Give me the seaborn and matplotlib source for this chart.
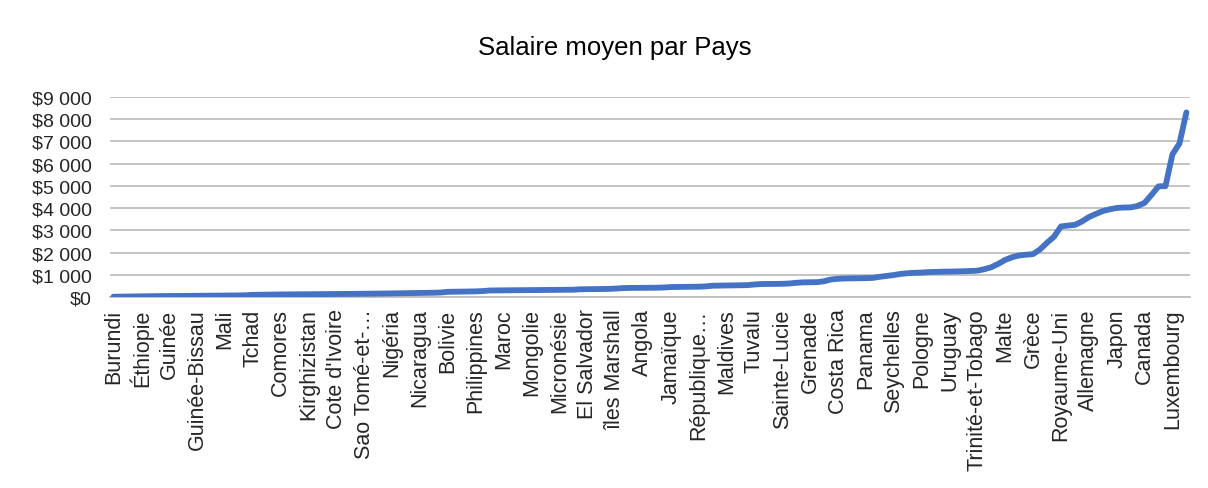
import numpy as np
import pandas as pd
import matplotlib
matplotlib.use("Agg")
import matplotlib.pyplot as plt
import seaborn as sns

# ---- data -------------------------------------------------------------
countries = [
    "Burundi", "Malawi", "Madagascar", "Centrafrique", "Éthiopie", "Niger", "Libéria", "Mozambique",
    "Guinée", "Sierra Leone", "Togo", "Ouganda", "Guinée-Bissau", "Burkina Faso", "Gambie", "Rwanda",
    "Mali", "Afghanistan", "Tanzanie", "Haïti", "Tchad", "Népal", "Bénin", "Tadjikistan",
    "Comores", "Érythrée", "Zimbabwe", "Sénégal", "Kirghizistan", "Cambodge", "Bangladesh", "Kenya",
    "Cote d'Ivoire", "Myanmar", "Zambie", "Cameroun", "Sao Tomé-et-Principe", "Lesotho", "Pakistan", "Mauritanie",
    "Nigéria", "Laos", "Soudan", "Ouzbékistan", "Nicaragua", "Inde", "Ghana", "Djibouti",
    "Bolivie", "Honduras", "Vietnam", "Papouasie", "Philippines", "Égypte", "Ukraine", "Îles Salomon",
    "Maroc", "Vanuatu", "Sri Lanka", "Indonésie", "Mongolie", "Kiribati", "Timor oriental", "Moldavie",
    "Micronésie", "Tunisie", "Guatemala", "Eswatini", "El Salvador", "Samoa", "Arménie", "Algérie",
    "îles Marshall", "Géorgie", "Tonga", "Congo", "Angola", "Jordanie", "Belize", "Guyana",
    "Jamaïque", "Paraguay", "Pérou", "Namibie", "République dominicaine", "Équateur", "Albanie", "Colombie",
    "Maldives", "Fidji", "Azerbaïdjan", "Macédoine du Nord", "Tuvalu", "Kazakhstan", "Afrique du Sud", "Botswana",
    "Sainte-Lucie", "Thaïlande", "Serbie", "Dominique", "Grenade", "Bosnie", "Saint-Vincent", "Brésil",
    "Costa Rica", "Mexique", "Monténégro", "Maurice", "Panama", "Chine", "Malaisie", "Russie",
    "Seychelles", "Turquie", "Roumanie", "Bulgarie", "Pologne", "Hongrie", "Chili", "Argentine",
    "Uruguay", "Croatie", "Lettonie", "Lituanie", "Trinité-et-Tobago", "Slovaquie", "Estonie", "Portugal",
    "Malte", "Tchéquie", "Slovénie", "Chypre", "Grèce", "Espagne", "Corée du Sud", "Italie",
    "Royaume-Uni", "France", "Israël", "Nouvelle-Zélande", "Allemagne", "Belgique", "Finlande", "Autriche",
    "Japon", "Suède", "Pays-Bas", "Irlande", "Canada", "Singapour", "Australie", "Danemark",
    "Luxembourg", "Norvège", "Suisse",
]

salaries = [
    25, 30, 35, 40, 45, 48, 52, 55, 58, 60, 63, 65, 68, 70, 72, 75,
    78, 80, 85, 90, 110, 115, 120, 125, 128, 130, 133, 135, 138, 140, 142, 145,
    147, 150, 152, 155, 158, 160, 165, 170, 175, 180, 185, 190, 195, 200, 205, 215,
    245, 250, 255, 260, 265, 280, 305, 310, 312, 315, 318, 320, 322, 325, 328, 330,
    333, 336, 340, 360, 363, 366, 370, 375, 390, 410, 420, 423, 426, 428, 430, 440,
    460, 465, 470, 473, 476, 490, 520, 525, 530, 533, 536, 545, 575, 595, 598, 600,
    605, 620, 650, 670, 675, 680, 720, 800, 830, 845, 850, 855, 860, 870, 920, 960,
    1000, 1050, 1080, 1100, 1110, 1130, 1140, 1150, 1155, 1160, 1170, 1180, 1195, 1260, 1350, 1500,
    1680, 1800, 1880, 1910, 1940, 2150, 2450, 2720, 3180, 3220, 3250, 3400, 3600, 3740, 3870, 3950,
    4010, 4030, 4035, 4100, 4240, 4600, 4980, 4990, 6420, 6900, 8300,
]

title = "Salaire moyen par Pays"
y_ticks = [0, 1000, 2000, 3000, 4000, 5000, 6000, 7000, 8000, 9000]
label_every = 4

# ---- figure -----------------------------------------------------------
sns.set_style("white")
plt.rcParams["font.family"] = ["Liberation Sans", "DejaVu Sans"]

df = pd.DataFrame({"pos": np.arange(len(countries)), "pays": countries, "salaire": salaries})

fig = plt.figure(figsize=(12.08, 4.89), dpi=100)
ax = fig.add_axes([0.091, 0.39, 0.894, 0.41])

sns.lineplot(data=df, x="pos", y="salaire", ax=ax, color="#4472C4", linewidth=4.2,
             solid_capstyle="round", solid_joinstyle="round", zorder=3)

ax.set_ylim(0, 9000)
ax.set_xlim(-0.5, len(countries) - 0.5)
ax.set_yticks(y_ticks)
ax.set_yticklabels([f"${v:,}".replace(",", " ") for v in y_ticks], fontsize=14)
ax.yaxis.grid(True, color="#BFBFBF", linewidth=1.3)
ax.xaxis.grid(False)


def short(name):
    if len(name) > 17:
        s = name[:12]
        if not s.endswith("-") and " " in s:
            s = s[:s.rfind(" ")]
        return s + "…"
    return name


tick_pos = df["pos"][::label_every]
ax.set_xticks(tick_pos)
ax.set_xticklabels([short(n) for n in df["pays"][::label_every]], rotation=90,
                   fontsize=15.5, va="top", ha="center")
ax.tick_params(axis="both", length=0)
ax.tick_params(axis="x", pad=8)
ax.tick_params(axis="y", pad=13)
ax.set_xlabel("")
ax.set_ylabel("")
for s in ["top", "right", "left"]:
    ax.spines[s].set_visible(False)
ax.spines["bottom"].set_color("#BFBFBF")
ax.spines["bottom"].set_linewidth(1.3)

fig.text(0.509, 0.902, title, ha="center", va="center", fontsize=18.5, color="#000000")

fig.savefig("out.png", dpi=100, facecolor="white")
